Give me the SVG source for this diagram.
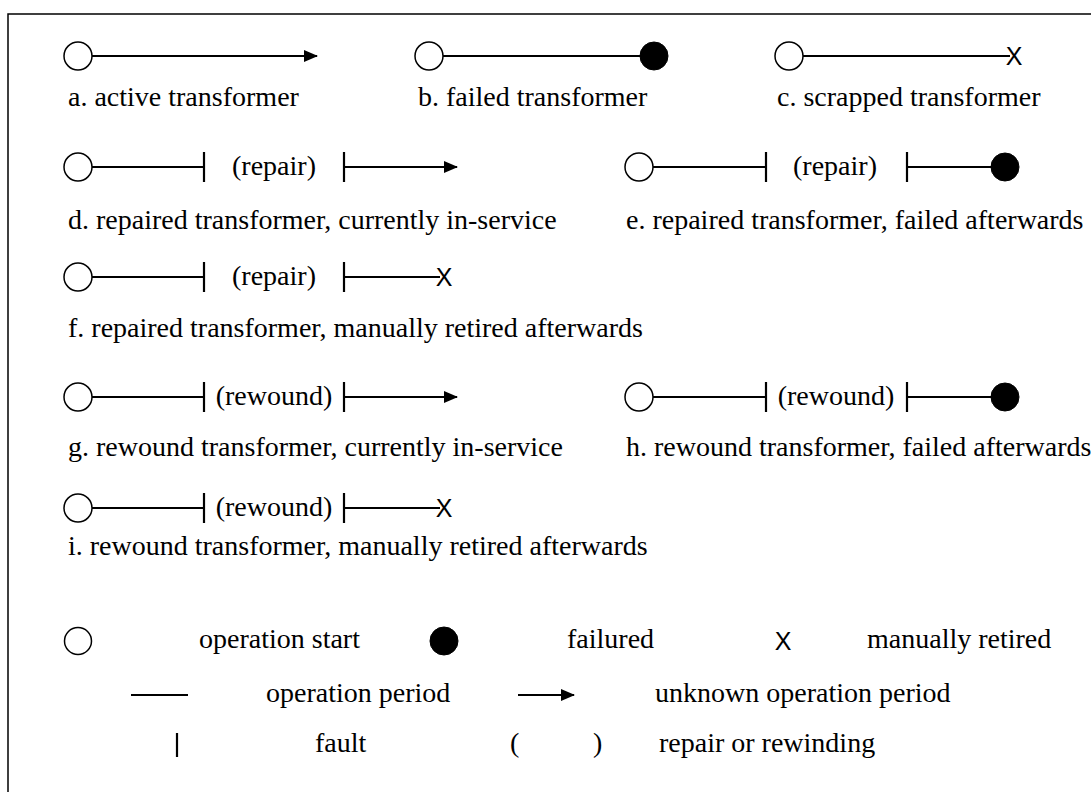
<svg xmlns="http://www.w3.org/2000/svg" width="1091" height="792" viewBox="0 0 1091 792">
<defs>
<marker id="arrow" markerWidth="14" markerHeight="12" refX="13" refY="6" orient="auto" markerUnits="userSpaceOnUse"><path d="M0,0 L14,6 L0,12 z" fill="#000"/></marker>
<style>
.t{font-family:"Liberation Serif","Times New Roman",serif;font-size:28px;fill:#000}
.x{font-family:"Liberation Sans",Arial,sans-serif;font-size:25px;fill:#000;text-anchor:middle}
.m{text-anchor:middle}
.o{fill:#fff;stroke:#000;stroke-width:1.5}
.f{fill:#000;stroke:#000;stroke-width:1}
.l{stroke:#000;stroke-width:2;fill:none}
.k{stroke:#000;stroke-width:2.2;fill:none}
</style>
</defs>
<rect width="1091" height="792" fill="#fff"/>
<path d="M8,792 V14 H1091" fill="none" stroke="#000" stroke-width="1.5"/>
<g id="connectors">
<line class="l" x1="92" y1="56" x2="317" y2="56" marker-end="url(#arrow)"/>
<line class="l" x1="443" y1="56" x2="641" y2="56"/>
<line class="l" x1="803" y1="56" x2="1010" y2="56"/>
<line class="l" x1="92" y1="167" x2="204" y2="167"/>
<line class="l" x1="344" y1="167" x2="457" y2="167" marker-end="url(#arrow)"/>
<line class="l" x1="653" y1="167" x2="766" y2="167"/>
<line class="l" x1="907" y1="167" x2="992" y2="167"/>
<line class="l" x1="92" y1="277" x2="204" y2="277"/>
<line class="l" x1="344" y1="277" x2="440" y2="277"/>
<line class="l" x1="92" y1="397" x2="204" y2="397"/>
<line class="l" x1="344" y1="397" x2="457" y2="397" marker-end="url(#arrow)"/>
<line class="l" x1="653" y1="397" x2="766" y2="397"/>
<line class="l" x1="907" y1="397" x2="992" y2="397"/>
<line class="l" x1="92" y1="508" x2="204" y2="508"/>
<line class="l" x1="344" y1="508" x2="440" y2="508"/>
</g>
<g id="item-a">
<circle class="o" cx="78" cy="56" r="14"/>
<text class="t" x="68" y="106">a. active transformer</text>
</g>
<g id="item-b">
<circle class="o" cx="429" cy="56" r="14"/>
<circle class="f" cx="654" cy="56" r="14"/>
<text class="t" x="418" y="106">b. failed transformer</text>
</g>
<g id="item-c">
<circle class="o" cx="789" cy="56" r="14"/>
<text class="x" x="1014" y="65">X</text>
<text class="t" x="777" y="106">c. scrapped transformer</text>
</g>
<g id="item-d">
<circle class="o" cx="78" cy="167" r="14"/>
<line class="k" x1="204" y1="152" x2="204" y2="182"/>
<text class="t m" x="274" y="175">(repair)</text>
<line class="k" x1="344" y1="152" x2="344" y2="182"/>
<text class="t" x="68" y="229">d. repaired transformer, currently in-service</text>
</g>
<g id="item-e">
<circle class="o" cx="639" cy="167" r="14"/>
<line class="k" x1="766" y1="152" x2="766" y2="182"/>
<text class="t m" x="835" y="175">(repair)</text>
<line class="k" x1="907" y1="152" x2="907" y2="182"/>
<circle class="f" cx="1005" cy="167" r="14"/>
<text class="t" x="626" y="229">e. repaired transformer, failed afterwards</text>
</g>
<g id="item-f">
<circle class="o" cx="78" cy="277" r="14"/>
<line class="k" x1="204" y1="262" x2="204" y2="292"/>
<text class="t m" x="274" y="285">(repair)</text>
<line class="k" x1="344" y1="262" x2="344" y2="292"/>
<text class="x" x="444" y="286">X</text>
<text class="t" x="68" y="337">f. repaired transformer, manually retired afterwards</text>
</g>
<g id="item-g">
<circle class="o" cx="78" cy="397" r="14"/>
<line class="k" x1="204" y1="382" x2="204" y2="412"/>
<text class="t m" x="274" y="405">(rewound)</text>
<line class="k" x1="344" y1="382" x2="344" y2="412"/>
<text class="t" x="68" y="456">g. rewound transformer, currently in-service</text>
</g>
<g id="item-h">
<circle class="o" cx="639" cy="397" r="14"/>
<line class="k" x1="766" y1="382" x2="766" y2="412"/>
<text class="t m" x="836" y="405">(rewound)</text>
<line class="k" x1="907" y1="382" x2="907" y2="412"/>
<circle class="f" cx="1005" cy="397" r="14"/>
<text class="t" x="626" y="456">h. rewound transformer, failed afterwards</text>
</g>
<g id="item-i">
<circle class="o" cx="78" cy="508" r="14"/>
<line class="k" x1="204" y1="493" x2="204" y2="523"/>
<text class="t m" x="274" y="516">(rewound)</text>
<line class="k" x1="344" y1="493" x2="344" y2="523"/>
<text class="x" x="444" y="517">X</text>
<text class="t" x="68" y="555">i. rewound transformer, manually retired afterwards</text>
</g>
<g id="legend">
<circle class="o" cx="78" cy="641" r="13.5"/>
<text class="t" x="199" y="648">operation start</text>
<circle class="f" cx="444" cy="641" r="14"/>
<text class="t" x="567" y="648">failured</text>
<text class="x" x="783" y="650">X</text>
<text class="t" x="867" y="648">manually retired</text>
<line class="l" x1="131" y1="695" x2="188" y2="695"/>
<text class="t" x="266" y="702">operation period</text>
<line class="l" x1="518" y1="695" x2="574" y2="695" marker-end="url(#arrow)"/>
<text class="t" x="655" y="702">unknown operation period</text>
<line class="k" x1="177" y1="733" x2="177" y2="757"/>
<text class="t" x="315" y="752">fault</text>
<text class="t" x="510" y="752">(</text>
<text class="t" x="593" y="752">)</text>
<text class="t" x="659" y="752">repair or rewinding</text>
</g>
</svg>
